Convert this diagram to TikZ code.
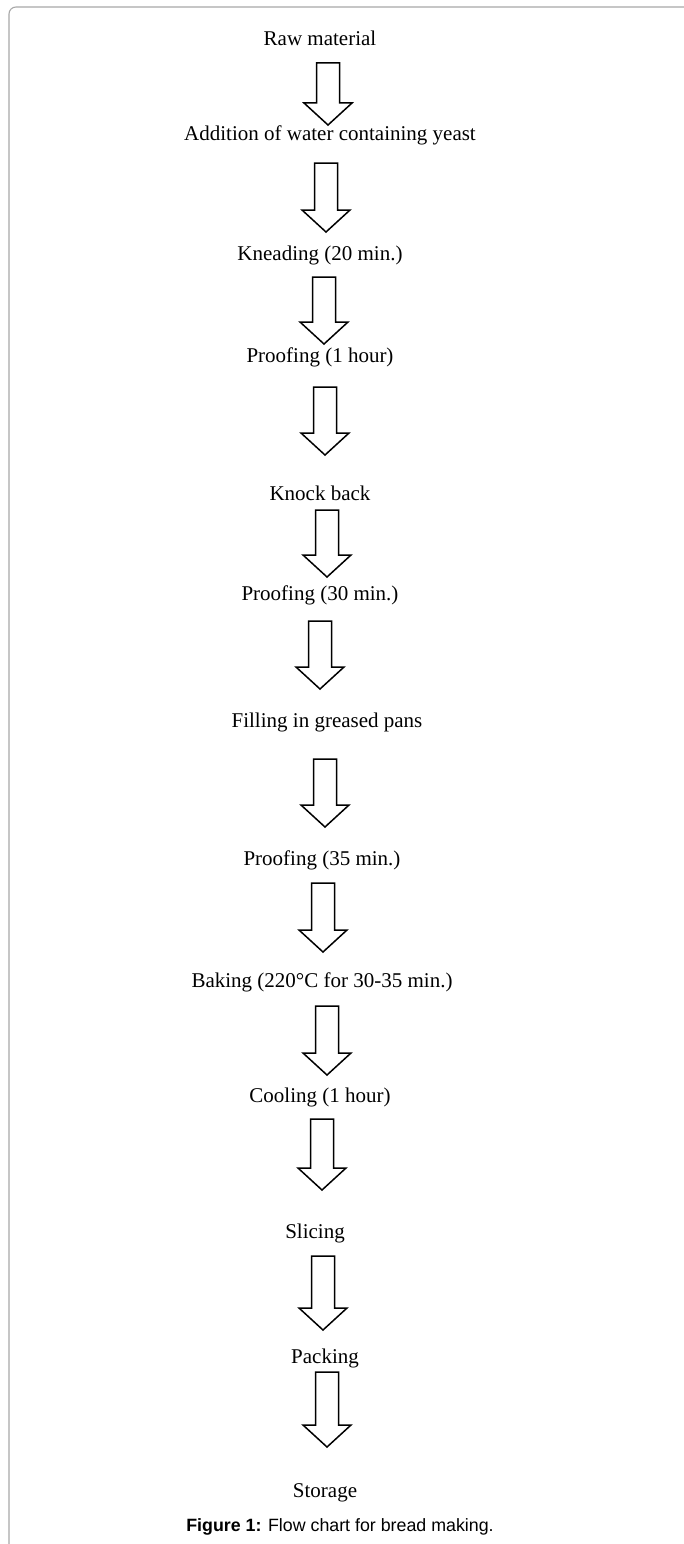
\documentclass[tikz,border=0pt]{standalone}
\usepackage{fontspec}
\setmainfont{Liberation Serif}
\newfontfamily\capfont{Liberation Sans}
\usetikzlibrary{calc}
\definecolor{framegray}{HTML}{A8A8A8}
\tikzset{
  steptext/.style={anchor=base, inner sep=0pt, font=\fontsize{21}{24}\selectfont},
  captext/.style={anchor=base, inner sep=0pt, font=\capfont\fontsize{17.8}{20}\selectfont},
  blockarrow/.style={draw=black, line width=1.5pt, line join=miter, fill=white},
  framestyle/.style={draw=framegray, line width=1.1pt, rounded corners=7pt}
}
% #1 start coordinate, #2 tip coordinate
\newcommand\barrow[2]{%
  \draw[blockarrow] let \p1=(#1), \p2=(#2) in
    (\x1-11.5pt,\y1) -- (\x1+11.5pt,\y1) -- (\x1+11.5pt,\y2+22pt) -- (\x1+24pt,\y2+22pt)
    -- (\x2,\y2) -- (\x1-24pt,\y2+22pt) -- (\x1-11.5pt,\y2+22pt) -- cycle;}
\begin{document}
\begin{tikzpicture}[x=1pt,y=-1pt]
\useasboundingbox (0,0) rectangle (683,1544);
\draw[framestyle] (9,1560) -- (9,7) -- (700,7);
\clip (0,0) rectangle (683,1544);
% texts
\node[steptext] (t1) at (320,46) {Raw material};
\node[steptext] (t2) at (330,141) {Addition of water containing yeast};
\node[steptext] (t3) at (320,260) {Kneading (20 min.)};
\node[steptext] (t4) at (320,362) {Proofing (1 hour)};
\node[steptext] (t5) at (320,500) {Knock back};
\node[steptext] (t6) at (320,600) {Proofing (30 min.)};
\node[steptext] (t7) at (327,727) {Filling in greased pans};
\node[steptext] (t8) at (322,865) {Proofing (35 min.)};
\node[steptext] (t9) at (322,987) {Baking (220°C for 30-35 min.)};
\node[steptext] (t10) at (320,1102) {Cooling (1 hour)};
\node[steptext] (t11) at (315,1238) {Slicing};
\node[steptext] (t12) at (325,1363) {Packing};
\node[steptext] (t13) at (325,1497) {Storage};
\node[captext] (cap) at (340,1531) {\textbf{Figure 1:} Flow chart for bread making.};
% arrow ends
\coordinate (a1s) at (328,63);   \coordinate (a1e) at (328,125);
\coordinate (a2s) at (326,163);  \coordinate (a2e) at (326,232);
\coordinate (a3s) at (324,277);  \coordinate (a3e) at (324,344);
\coordinate (a4s) at (325,387);  \coordinate (a4e) at (325,455);
\coordinate (a5s) at (327,510);  \coordinate (a5e) at (327,577);
\coordinate (a6s) at (320,621);  \coordinate (a6e) at (320,689);
\coordinate (a7s) at (325,759);  \coordinate (a7e) at (325,827);
\coordinate (a8s) at (323,883);  \coordinate (a8e) at (323,952);
\coordinate (a9s) at (327,1006); \coordinate (a9e) at (327,1075);
\coordinate (a10s) at (322,1119); \coordinate (a10e) at (322,1190);
\coordinate (a11s) at (323,1256); \coordinate (a11e) at (323,1330);
\coordinate (a12s) at (327,1372); \coordinate (a12e) at (327,1447);
\foreach \i in {1,...,12} {\barrow{a\i s}{a\i e}}
\end{tikzpicture}
\end{document}
